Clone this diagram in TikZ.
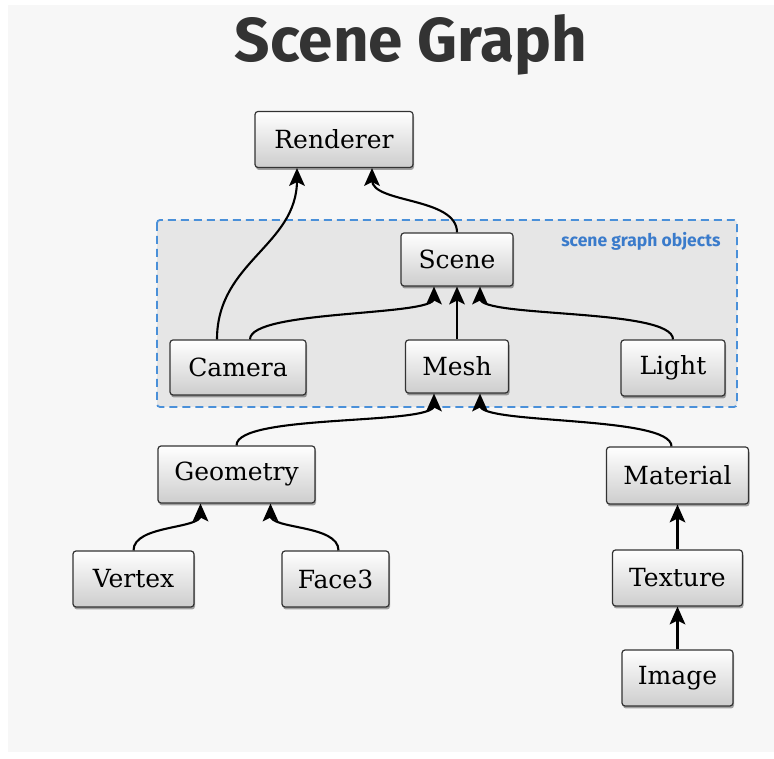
\documentclass[tikz,border=0pt]{standalone}
\usepackage{fontspec}
\setmainfont{DejaVu Serif}
\newfontfamily\titlefont{Fira Sans}
\usepackage{xcolor}
\usetikzlibrary{arrows.meta,shadows}
\definecolor{bggray}{HTML}{F7F7F7}
\definecolor{groupgray}{HTML}{E6E6E6}
\definecolor{groupblue}{HTML}{4A90D9}
\definecolor{grouptext}{HTML}{3A7BCB}
\definecolor{titlegray}{HTML}{333333}
\definecolor{boxline}{HTML}{333333}
\definecolor{boxbottom}{HTML}{CDCDCD}

\tikzset{
  obj/.style={draw=boxline, line width=1.2pt, rounded corners=3pt,
    top color=white, bottom color=boxbottom,
    drop shadow={shadow xshift=1pt, shadow yshift=-2.5pt, opacity=0.35, fill=black},
    minimum height=56pt, inner sep=0pt, font=\fontsize{25}{29}\selectfont},
  edgelink/.style={draw=black, line width=2.1pt, shorten >=12pt},
  group/.style={draw=groupblue, fill=groupgray, line width=1.8pt,
    dash pattern=on 8pt off 5pt, rounded corners=3pt},
}
% upward stealth tip, its point at #1
\newcommand\sgtip[1]{\fill [black] (#1) -- ++(-8,-18) -- ++(8,4) -- ++(8,-4) -- cycle;}

\begin{document}
\begin{tikzpicture}[x=1pt,y=1pt]
	\useasboundingbox (0,0) rectangle (774,758);
	\fill [bggray] (8,6) rectangle (774,753);
	% title
	\node [anchor=base, text=titlegray, font=\titlefont\bfseries\fontsize{62}{72}\selectfont] (title) at (411,696) {Scene Graph};
	% group of scene graph objects
	\draw [group] (157,538) rectangle (737,351);
	\node [anchor=east, text=grouptext, font=\titlefont\bfseries\fontsize{17.5}{21}\selectfont] (grouplabel) at (724,517) {scene graph objects};
	% objects
	\node [obj, minimum width=158pt] (renderer) at (334,618.5) {Renderer};
	\node [obj, minimum width=112pt, minimum height=53pt] (scene) at (457,498.5) {Scene};
	\node [obj, minimum width=136pt, minimum height=55pt] (camera) at (238,390.5) {Camera};
	\node [obj, minimum width=103pt, minimum height=53pt] (mesh) at (457,391.5) {Mesh};
	\node [obj, minimum width=104pt] (light) at (673,390) {Light};
	\node [obj, minimum width=157pt, minimum height=57pt] (geometry) at (236.5,283.5) {Geometry};
	\node [obj, minimum width=142pt, minimum height=57pt] (material) at (677.5,282.5) {Material};
	\node [obj, minimum width=121pt] (vertex) at (133.5,179) {Vertex};
	\node [obj, minimum width=107pt] (face3) at (335.5,179) {Face3};
	\node [obj, minimum width=130pt] (texture) at (677.5,180) {Texture};
	\node [obj, minimum width=111pt] (image) at (677.5,80) {Image};
	% connectors
	\draw [edgelink] ([xshift=-21pt]camera.north) to[out=90,in=-90,looseness=1.05] ([xshift=-37pt]renderer.south);
	\draw [edgelink] (scene.north) to[out=90,in=-90,looseness=0.85] ([xshift=38pt]renderer.south);
	\draw [edgelink] ([xshift=12pt]camera.north) to[out=90,in=-90,looseness=0.4] ([xshift=-23pt]scene.south);
	\draw [edgelink] (mesh.north) -- (scene.south);
	\draw [edgelink] (light.north) to[out=90,in=-90,looseness=0.4] ([xshift=23pt]scene.south);
	\draw [edgelink] (geometry.north) to[out=90,in=-90,looseness=0.4] ([xshift=-23pt]mesh.south);
	\draw [edgelink] ([xshift=-6pt]material.north) to[out=90,in=-90,looseness=0.4] ([xshift=23pt]mesh.south);
	\draw [edgelink] (vertex.north) to[out=90,in=-90,looseness=0.8] ([xshift=-36pt]geometry.south);
	\draw [edgelink] ([xshift=3pt]face3.north) to[out=90,in=-90,looseness=0.8] ([xshift=34pt]geometry.south);
	\draw [edgelink] (texture.north) -- (material.south);
	\draw [edgelink] (image.north) -- (texture.south);
	% arrow tips
	\sgtip{[xshift=-37pt]renderer.south}
	\sgtip{[xshift=38pt]renderer.south}
	\sgtip{[xshift=-23pt]scene.south}
	\sgtip{scene.south}
	\sgtip{[xshift=23pt]scene.south}
	\sgtip{[xshift=-23pt]mesh.south}
	\sgtip{[xshift=23pt]mesh.south}
	\sgtip{[xshift=-36pt]geometry.south}
	\sgtip{[xshift=34pt]geometry.south}
	\sgtip{material.south}
	\sgtip{texture.south}
\end{tikzpicture}
\end{document}
